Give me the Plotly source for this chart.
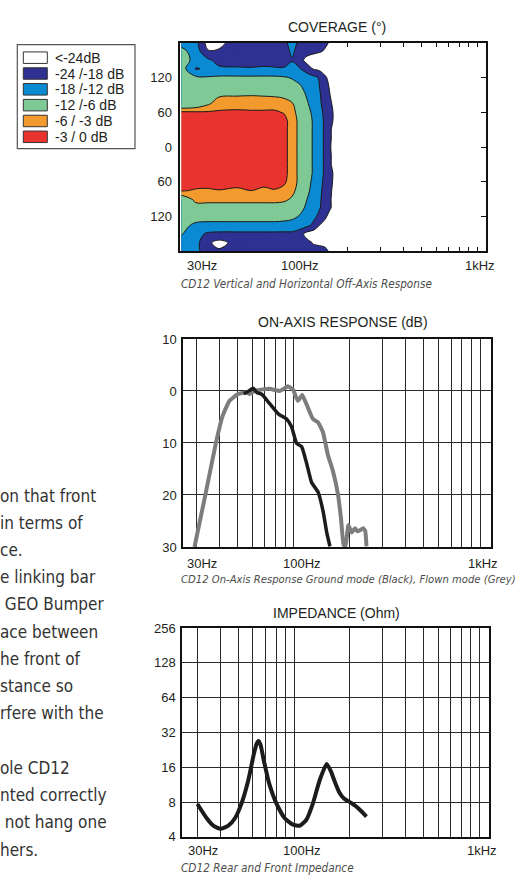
import math

import plotly.graph_objects as go

W, H = 528, 881

# ---------------------------------------------------------------- data
# coverage map: rows = angle (top -> bottom), cols = frequency (Hz), values in dB
coverage_freq = [25, 30, 35, 40, 50, 60, 70, 80, 90, 100, 110, 120, 130, 140, 150, 160, 170, 200, 1150]
coverage_angle = [180, 165, 150, 135, 120, 105, 90, 75, 60, 45, 30, 15, 0,
                  -15, -30, -45, -60, -75, -90, -105, -120, -135, -150, -165, -180]
coverage_db = [
    [-14, -16, -27, -26.5, -20, -19.5, -19, -19.5, -19, -16.5, -19, -20, -21, -22, -23, -24.5, -28, -30, -40],
    [-10, -15, -23.5, -23, -21, -20.5, -20, -19.5, -19, -17.5, -19.5, -21, -22.5, -23.5, -24.5, -26, -28, -30, -40],
    [-9, -14, -17, -20, -20.5, -20.5, -20, -20, -20.5, -18.2, -21.5, -26.5, -27.5, -27.5, -28, -28, -29, -30, -40],
    [-9, -18.5, -17, -17, -17.3, -17.5, -17.2, -17.5, -17.5, -17.2, -17.8, -20.5, -24.5, -25.5, -27, -28, -29, -30, -40],
    [-10, -11, -11.5, -11, -11, -11, -11, -11, -11.5, -12.5, -14, -15.5, -16.5, -18.5, -23, -26, -28, -30, -40],
    [-10.5, -10.5, -10, -9, -8.5, -8.5, -8.5, -8.5, -9, -10, -11.5, -14, -16, -18, -21, -25, -28, -30, -40],
    [-10.5, -10, -9, -6.5, -6.3, -6.2, -6.3, -6.5, -7, -8, -10, -12.5, -15, -17.5, -20, -24, -27, -30, -40],
    [-10, -9, -6.5, -4.5, -4.2, -4.0, -4.3, -4.2, -4.5, -5.8, -8.5, -11.5, -14, -17, -20, -23, -26, -30, -40],
    [-2.5, -2.6, -2.7, -2.6, -2.5, -2.7, -2.6, -2.6, -3.2, -5, -7.5, -10.5, -13, -16, -19.5, -22.5, -25, -30, -40],
    [-1, -1, -1, -1, -1, -1, -1, -1, -2, -4.5, -7, -10, -12.5, -15.5, -19, -22, -25.5, -30, -40],
    [-1, -1, -1, -1, -1, -1, -1, -1, -2, -4.5, -7, -10, -12.5, -15.5, -19, -23, -27, -30, -40],
    [-1, -1, -1, -1, -1, -1, -1, -1, -2, -4.5, -7, -10, -12.5, -15.5, -19, -23, -27, -30, -40],
    [-1, -1, -1, -1, -1, -1, -1, -1, -2, -4.5, -7, -10, -12.5, -15.5, -19, -23.5, -27, -30, -40],
    [-1, -1, -1, -1, -1, -1, -1, -1, -2, -4.5, -7, -10, -12.5, -15.5, -19, -23, -27, -30, -40],
    [-1, -1, -1, -1, -1, -1, -1, -1, -2, -4.5, -7, -10, -12.5, -15.5, -19, -23, -27, -30, -40],
    [-1, -1, -1, -1, -1, -1, -1, -1, -2, -4.5, -7, -10, -12.5, -15.5, -19, -22, -25.5, -30, -40],
    [-1.8, -1.8, -1.8, -1.8, -1.8, -1.8, -1.8, -1.8, -2.5, -4.5, -7, -10.5, -13, -16, -19.5, -22.5, -25.5, -30, -40],
    [-2.7, -3.3, -3.4, -3.1, -3.6, -3.0, -3.8, -3.2, -3.8, -5.2, -7.5, -11, -13.5, -16.5, -20, -23, -26, -30, -40],
    [-9, -5, -5, -5, -5, -5, -5, -5, -5.3, -6.5, -9, -12, -14.5, -17, -20.5, -23.5, -26, -30, -40],
    [-9.5, -7.5, -7.5, -7.5, -7.5, -7.5, -7.5, -7.5, -7.8, -8.5, -10.5, -13, -15.5, -17.5, -20.5, -23.5, -26, -30, -40],
    [-10, -10, -10, -10, -10, -10, -10, -10, -10.3, -11, -12.5, -14.5, -16.5, -19.5, -23, -26, -27, -30, -40],
    [-10.5, -13, -13.5, -13.5, -13.5, -13.5, -13.5, -13.5, -13.7, -14, -15, -16.5, -19.5, -24, -26, -27, -28, -30, -40],
    [-11.5, -16, -19, -19.5, -19.5, -19.5, -19.5, -19.5, -19.5, -19.5, -21.5, -26.5, -27.5, -27.5, -28, -28, -29, -30, -40],
    [-14, -16, -23, -26, -22, -20.5, -20, -20.5, -20, -20, -20.5, -22, -24.5, -25, -25, -25.5, -28, -30, -40],
    [-15, -17, -20, -23, -20, -19.5, -19, -19.5, -19.5, -19.5, -20, -21, -21.5, -22, -23, -24.5, -28, -30, -40],
]

# on-axis response (dB)
flown_freq = [29.4, 33.7, 38.4, 41.7, 45.3, 50.3, 55.6, 58.1, 61.7, 68.4, 74.3, 84.1, 88.5, 93.2, 99.1,
              105.5, 111.2, 119.3, 126.9, 135.0, 143.6, 152.7, 162.5, 172.8, 180.0, 185.4,
              190.0, 196.5, 204.9, 213.5, 220.0, 227.0, 236.0, 242.0, 246.0]
flown_db = [-30.0, -19.8, -9.8, -4.7, -1.9, -0.6, -0.3, -0.6, 0.0, 0.3, 0.4, 0.0, 0.4, 0.9, 0.3,
            -1.9, -0.8, -3.2, -5.4, -6.0, -7.9, -12.3, -15.4, -19.8, -24.9, -29.6,
            -29.8, -25.8, -27.2, -26.4, -27.0, -26.8, -26.4, -26.9, -29.9]
ground_freq = [54.0, 56.5, 60.7, 63.5, 67.3, 74.6, 82.7, 91.7, 97.5, 103.8, 110.4, 117.4, 124.9,
               135.5, 144.2, 150.3, 156.6]
ground_db = [-0.5, -0.2, 0.5, -0.3, -0.6, -2.5, -4.4, -5.4, -6.9, -10.1, -10.7, -13.9, -17.6,
             -19.5, -23.3, -27.1, -29.9]

# impedance (Ohm)
imp_freq = [30.1, 33.8, 36.7, 40.1, 44.2, 48.0, 52.1, 56.6, 60.7, 62.8, 64.3, 66.0, 68.7, 73.4,
            80.3, 89.1, 98.8, 107.3, 116.4, 126.5, 137.4, 150.0, 158.0, 166.0, 175.0, 186.0,
            200.0, 215.0, 228.0, 246.0]
imp_ohm = [7.7, 5.8, 5.0, 4.7, 5.0, 5.8, 7.8, 12.3, 20.8, 25.5, 27.0, 25.0, 18.3, 11.6,
           7.8, 5.8, 5.1, 5.0, 5.6, 7.8, 12.3, 17.1, 14.8, 12.0, 9.8, 8.6,
           8.0, 7.4, 6.8, 6.0]

grid_freq = [30, 40, 50, 60, 70, 80, 90, 100, 200, 300, 400, 500, 600, 700, 800, 900, 1000]
cov_tick_freq = [200, 300, 400, 500, 600, 700, 800, 900, 1000]
freq_labels = ["30Hz", "100Hz", "1kHz"]
freq_label_vals = [30, 100, 1000]
angle_ticks = [120, 60, 0, -60, -120]
angle_ticktext = ["120", "60", "0", "60", "120"]
db_ticks = [10, 0, -10, -20, -30]
db_ticktext = ["10", "0", "10", "20", "30"]
ohm_ticks = [4, 8, 16, 32, 64, 128, 256]
ohm_ticktext = ["4", "8", "16", "32", "64", "128", "256"]

legend_labels = ["<-24dB", "-24 /-18 dB", "-18 /-12 dB", "-12 /-6 dB", "-6 / -3 dB", "-3 / 0 dB"]

body_lines = ["on that front", "in terms of", "ce.", "e linking bar", " GEO Bumper",
              "ace between", "he front of", "stance so", "rfere with the", "",
              "ole CD12", "nted correctly", " not hang one", "hers."]

# ---------------------------------------------------------------- style
WHITE = "#ffffff"
NAVY = "#2e3191"
BLUE = "#0a8ad2"
GREEN = "#7fc996"
ORANGE = "#f39a2f"
RED = "#e8332f"
INK = "#231f20"
GRID = "#2a2a2a"
SANS = "Liberation Sans, Arial, sans-serif"
NARROW = "DejaVu Sans Condensed, Liberation Sans Narrow, sans-serif"

legend_colors = [WHITE, NAVY, BLUE, GREEN, ORANGE, RED]

# bands every 3 dB from -24 to -3 -> 9 fill regions
band_scale = [
    [0.0, WHITE], [0.0625, WHITE],
    [0.0625, NAVY], [0.3125, NAVY],
    [0.3125, BLUE], [0.5625, BLUE],
    [0.5625, GREEN], [0.8125, GREEN],
    [0.8125, ORANGE], [0.9375, ORANGE],
    [0.9375, RED], [1.0, RED],
]


def fx(px):
    return px / W


def fy(py):
    return 1 - py / H


def lg(v):
    return math.log10(v)


fig = go.Figure()

# ---------------------------------------------------------------- coverage
ang = coverage_angle[::-1]
zz = coverage_db[::-1]
fig.add_trace(go.Contour(
    x=coverage_freq, y=ang, z=zz, xaxis="x", yaxis="y",
    autocontour=False,
    contours=dict(start=-24, end=-3, size=3, coloring="fill", showlines=False),
    colorscale=band_scale, showscale=False,
    line=dict(width=0, smoothing=1), hoverinfo="skip",
))
fig.add_trace(go.Contour(
    x=coverage_freq, y=ang, z=zz, xaxis="x", yaxis="y",
    autocontour=False,
    contours=dict(start=-24, end=-6, size=6, coloring="none"),
    line=dict(color="#1a1a1a", width=1, smoothing=1),
    showscale=False, hoverinfo="skip",
))
fig.add_trace(go.Contour(
    x=coverage_freq, y=ang, z=zz, xaxis="x", yaxis="y",
    autocontour=False,
    contours=dict(start=-3, end=-3, size=1, coloring="none"),
    line=dict(color="#1a1a1a", width=1, smoothing=1),
    showscale=False, hoverinfo="skip",
))
# dummy trace so the right-hand tick axis is drawn
fig.add_trace(go.Scatter(x=[], y=[], xaxis="x", yaxis="y4", showlegend=False))

# ---------------------------------------------------------------- on-axis
fig.add_trace(go.Scatter(
    x=flown_freq, y=flown_db, xaxis="x2", yaxis="y2", mode="lines",
    line=dict(color="#7d7d7d", width=4, shape="spline", smoothing=0.4),
    showlegend=False, hoverinfo="skip",
))
fig.add_trace(go.Scatter(
    x=ground_freq, y=ground_db, xaxis="x2", yaxis="y2", mode="lines",
    line=dict(color="#1c1c1c", width=3.5, shape="spline", smoothing=0.4),
    showlegend=False, hoverinfo="skip",
))

# ---------------------------------------------------------------- impedance
fig.add_trace(go.Scatter(
    x=imp_freq, y=imp_ohm, xaxis="x3", yaxis="y3", mode="lines",
    line=dict(color="#1c1c1c", width=4, shape="spline", smoothing=0.5),
    showlegend=False, hoverinfo="skip",
))

tickfont = dict(family=SANS, size=13, color=INK)
frame = dict(showline=True, linecolor="#111", mirror=True, zeroline=False)

fig.update_layout(
    width=W, height=H,
    margin=dict(l=0, r=0, t=0, b=0),
    paper_bgcolor="white", plot_bgcolor="white",
    showlegend=False,
    # coverage
    xaxis=dict(domain=[fx(180.3), fx(486.3)], anchor="y", type="log",
               range=[lg(24.7), lg(1123)], showgrid=False, zeroline=False,
               showline=True, linecolor="#111", linewidth=1.5, mirror="ticks",
               ticks="inside", ticklen=5, tickwidth=1, tickcolor="#111",
               tickvals=cov_tick_freq, showticklabels=False),
    yaxis=dict(domain=[fy(248.7), fy(36.3)], anchor="x", range=[-180, 180],
               showgrid=False, linewidth=1.5, ticks="", tickvals=angle_ticks,
               ticktext=angle_ticktext, tickfont=tickfont, ticklabelstandoff=4, **frame),
    yaxis4=dict(overlaying="y", anchor="x", side="right", range=[-180, 180],
                showgrid=False, zeroline=False, showline=False, ticks="inside",
                ticklen=5, tickwidth=1, tickcolor="#111", tickvals=angle_ticks,
                showticklabels=False),
    # on-axis
    xaxis2=dict(domain=[fx(183.3), fx(491)], anchor="y2", type="log",
                range=[lg(25.6), lg(1145)], showgrid=True, gridcolor=GRID, gridwidth=1.2,
                tickvals=grid_freq, ticks="", showticklabels=False, linewidth=2, **frame),
    yaxis2=dict(domain=[fy(549.3), fy(337.7)], anchor="x2", range=[-30, 10],
                showgrid=True, gridcolor=GRID, gridwidth=1.2, tickvals=db_ticks,
                ticktext=db_ticktext, ticks="", tickfont=tickfont, ticklabelstandoff=2,
                linewidth=2, **frame),
    # impedance
    xaxis3=dict(domain=[fx(182.3), fx(489.3)], anchor="y3", type="log",
                range=[lg(24.95), lg(1132)], showgrid=True, gridcolor=GRID, gridwidth=1.2,
                tickvals=grid_freq, ticks="", showticklabels=False, linewidth=2, **frame),
    yaxis3=dict(domain=[fy(844.3), fy(631.7)], anchor="x3", type="log",
                range=[lg(4), lg(256)], showgrid=True, gridcolor=GRID, gridwidth=1.2,
                tickvals=ohm_ticks, ticktext=ohm_ticktext, ticks="", tickfont=tickfont,
                ticklabelstandoff=2, linewidth=2, **frame),
)

ann = []

# chart titles
for text, cx, cy in [("COVERAGE (°)", 337, 20), ("ON-AXIS RESPONSE (dB)", 342.7, 320.7),
                     ("IMPEDANCE (Ohm)", 336, 616)]:
    ann.append(dict(text=text, x=fx(cx), y=fy(cy), xref="paper", yref="paper",
                    xanchor="center", yanchor="middle", showarrow=False,
                    font=dict(family=SANS, size=14, color=INK)))

# frequency labels under each chart (slightly right of their grid line, as printed)
label_shift = [6, 8, 3]
for xr, ly in [("x", 263), ("x2", 565.7), ("x3", 857.7)]:
    for f, t, s in zip(freq_label_vals, freq_labels, label_shift):
        ann.append(dict(text=t, x=lg(f), y=fy(ly), xref=xr, yref="paper", xshift=s,
                        xanchor="center", yanchor="middle", showarrow=False,
                        font=tickfont))

# captions
for text, cy, size in [("CD12 Vertical and Horizontal Off-Axis Response", 281.7, 11.7),
                       ("CD12 On-Axis Response Ground mode (Black), Flown mode (Grey)", 582.7, 11.2),
                       ("CD12 Rear and Front Impedance", 875.5, 11.7)]:
    ann.append(dict(text=text, x=fx(179), y=fy(cy), xref="paper", yref="paper",
                    xanchor="left", yanchor="middle", showarrow=False,
                    font=dict(family=NARROW, size=size, color="#4d4d4d", style="italic")))

# legend
shapes = [dict(type="rect", xref="paper", yref="paper", x0=fx(17.3), x1=fx(135),
               y0=fy(144), y1=fy(38.3), line=dict(color="#555", width=1.2),
               fillcolor="white", layer="below")]
for i, (lab, col) in enumerate(zip(legend_labels, legend_colors)):
    top = 45.7 + i * 16.1
    shapes.append(dict(type="rect", xref="paper", yref="paper", x0=fx(23.3), x1=fx(47.3),
                       y0=fy(top + 11.7), y1=fy(top), fillcolor=col,
                       line=dict(color="#333", width=1)))
    ann.append(dict(text=lab, x=fx(53), y=fy(top + 6), xref="paper", yref="paper",
                    xanchor="left", yanchor="middle", showarrow=False,
                    font=dict(family=SANS, size=14, color=INK)))

# body text cut at the left page edge
for i, line in enumerate(body_lines):
    if not line:
        continue
    ann.append(dict(text=line.replace(" ", "&nbsp;", 1) if line.startswith(" ") else line,
                    x=fx(-2), y=fy(497 + i * 27.7), xref="paper", yref="paper",
                    xanchor="left", yanchor="middle", showarrow=False,
                    font=dict(family=NARROW, size=17, color="#333")))

fig.update_layout(annotations=ann, shapes=shapes)

# the page body has a default 8px margin; drop it so the figure sits at 0,0
fig.write_html("out.html", config={"displayModeBar": False},
               post_script="document.body.style.margin='0px';")
